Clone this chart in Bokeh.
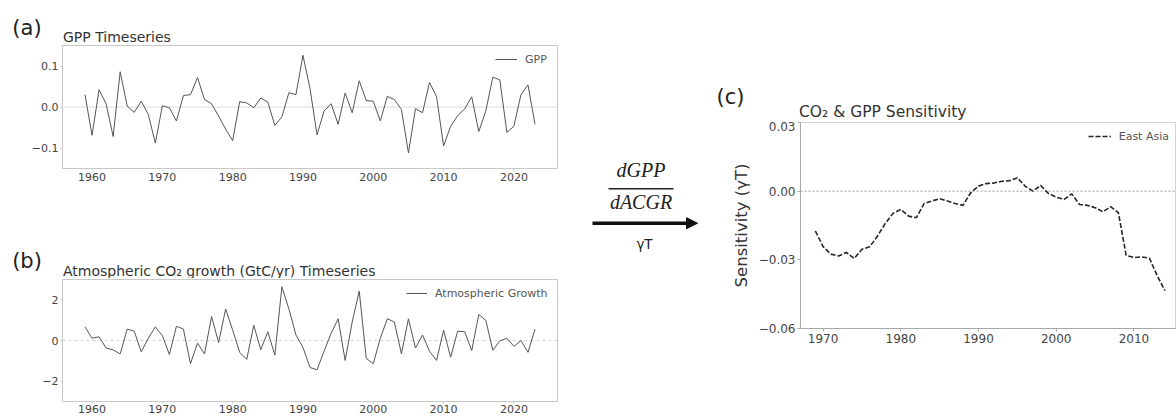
from math import pi
from bokeh.plotting import figure
from bokeh.layouts import row, column
from bokeh.models import (Range1d, FixedTicker, Span, Label, Legend, LegendItem,
                          Arrow, NormalHead)
from bokeh.embed import file_html
from bokeh.resources import INLINE

# ---------------- data ----------------
years = list(range(1959, 2024))
gpp = [0.030, -0.069, 0.042, 0.008, -0.072, 0.086, 0.002, -0.013, 0.014, -0.018,
       -0.088, 0.003, -0.002, -0.034, 0.028, 0.030, 0.072, 0.018, 0.008, -0.022,
       -0.054, -0.082, 0.013, 0.010, -0.002, 0.022, 0.012, -0.045, -0.024, 0.035,
       0.030, 0.126, 0.045, -0.068, -0.010, 0.008, -0.042, 0.034, -0.014, 0.064,
       0.016, 0.014, -0.034, 0.026, 0.018, -0.006, -0.112, -0.004, -0.014, 0.060,
       0.025, -0.095, -0.047, -0.021, -0.005, 0.025, -0.060, -0.010, 0.073, 0.066,
       -0.062, -0.047, 0.030, 0.054, -0.042]
atm_growth = [0.67, 0.11, 0.18, -0.37, -0.46, -0.66, 0.56, 0.46, -0.56, 0.11,
              0.67, 0.24, -0.69, 0.70, 0.56, -1.14, -0.13, -0.66, 1.18, -0.10,
              1.55, 0.51, -0.58, -0.93, 0.75, -0.45, 0.43, -0.72, 2.64, 1.55,
              0.27, -0.34, -1.33, -1.44, -0.53, 0.35, 1.07, -0.98, 0.91, 2.43,
              -0.88, -1.14, 0.11, 1.07, 0.91, -0.66, 1.07, -0.37, 0.27, -0.53,
              -0.98, 0.51, -0.82, 0.46, 0.43, -0.50, 1.28, 0.99, -0.48, -0.02,
              0.11, -0.29, 0.00, -0.58, 0.56]
sens_years = list(range(1969, 2015))
sensitivity = [-0.0174, -0.0242, -0.0275, -0.0283, -0.0268, -0.0294, -0.0254, -0.0243,
               -0.0196, -0.0141, -0.0097, -0.0080, -0.0109, -0.0116, -0.0054, -0.0043,
               -0.0033, -0.0043, -0.0054, -0.0062, -0.0007, 0.0022, 0.0033, 0.0036,
               0.0043, 0.0046, 0.0058, 0.0022, 0.0000, 0.0025, -0.0010, -0.0026,
               -0.0036, -0.0012, -0.0058, -0.0062, -0.0072, -0.0090, -0.0068, -0.0094,
               -0.0280, -0.0290, -0.0287, -0.0293, -0.0370, -0.0435]

year_ticks = [1960, 1970, 1980, 1990, 2000, 2010, 2020]
gpp_ticks = [-0.1, 0.0, 0.1]
gpp_tick_labels = ["\u22120.1", "0.0", "0.1"]
atm_ticks = [-2, 0, 2]
atm_tick_labels = ["\u22122", "0", "2"]
sens_year_ticks = [1970, 1980, 1990, 2000, 2010]
sens_ticks = [-0.06, -0.03, 0.0, 0.03]
sens_tick_labels = ["\u22120.06", "\u22120.03", "0.00", "0.03"]

# ---------------- helpers ----------------
FONT = "DejaVu Sans"
TICK_C = "#444444"


def blank(ox, oy, w, h):
    """Axis-less figure whose data coordinates equal page pixels."""
    p = figure(width=w, height=h, x_range=Range1d(ox, ox + w), y_range=Range1d(oy + h, oy),
               output_backend="svg", toolbar_location=None,
               x_axis_location=None, y_axis_location=None,
               min_border=0, outline_line_color=None,
               background_fill_color="white", border_fill_color="white")
    p.min_border_left = 0
    p.min_border_right = 0
    p.min_border_top = 0
    p.min_border_bottom = 0
    p.grid.visible = False
    return p


def style_axes(p, tick_size, axis_color, tick_out, standoff):
    p.xgrid.visible = False
    p.ygrid.visible = False
    for ax in p.axis:
        ax.major_label_text_font = FONT
        ax.major_label_text_font_size = tick_size
        ax.major_label_text_color = TICK_C
        ax.minor_tick_line_color = None
        ax.major_tick_in = 0
        ax.major_tick_out = tick_out
        ax.major_tick_line_color = axis_color
        ax.axis_line_color = axis_color
        ax.major_label_standoff = standoff


def add_label(p, x, y, text, size, align="left", font=FONT,
              style="normal", color="#222222", angle=0.0):
    p.add_layout(Label(x=x, y=y, text=text, text_font=font, text_font_size=size,
                       text_font_style=style, text_color=color, text_align=align,
                       text_baseline="middle", angle=angle))


def add_legend(p, renderer, text, vx, vy, glyph_w):
    leg = Legend(items=[LegendItem(label=text, renderers=[renderer])],
                 location=(vx, vy), padding=0, margin=0, spacing=0,
                 glyph_width=glyph_w, glyph_height=20, label_height=20,
                 label_standoff=8, label_text_font=FONT, label_text_font_size="11px",
                 label_text_color="#555555", border_line_color=None,
                 background_fill_alpha=0)
    p.add_layout(leg)


TS_X = (1955.8, 2026.2)
FRAME_C = "#c8c8c8"

# ---------------- panel (a) ----------------
head_a = blank(0, 0, 560, 44)
add_label(head_a, 26.5, 27.5, "(a)", "21px", align="center")
add_label(head_a, 62.5, 36.2, "GPP Timeseries", "14px", color="#333333")

fa = figure(width=560, height=146, x_range=Range1d(*TS_X), y_range=Range1d(-0.15, 0.15),
            output_backend="svg", toolbar_location=None,
            min_border_left=62, min_border_right=3, min_border_top=1, min_border_bottom=22,
            outline_line_color=FRAME_C, background_fill_color="white",
            border_fill_color="white")
style_axes(fa, "11px", FRAME_C, 2, 2)
fa.xaxis.ticker = FixedTicker(ticks=year_ticks)
fa.yaxis.ticker = FixedTicker(ticks=gpp_ticks)
fa.yaxis.major_label_overrides = dict(zip(gpp_ticks, gpp_tick_labels))
fa.add_layout(Span(location=0, dimension="width", line_color="#dcdcdc", line_width=1,
                   level="underlay"))
ra = fa.line(years, gpp, line_color="#555555", line_width=1)
add_legend(fa, ra, "GPP", 433, 98.7, 22)

# ---------------- panel (b) ----------------
head_b = blank(0, 190, 560, 88)
add_label(head_b, 26.5, 260, "(b)", "21px", align="center")
add_label(head_b, 62.5, 270.4, "Atmospheric CO\u2082 growth (GtC/yr) Timeseries", "14px",
          color="#333333")

fb = figure(width=560, height=140, x_range=Range1d(*TS_X), y_range=Range1d(-3, 3),
            output_backend="svg", toolbar_location=None,
            min_border_left=62, min_border_right=3, min_border_top=1, min_border_bottom=17,
            outline_line_color=FRAME_C, background_fill_color="white",
            border_fill_color="white")
style_axes(fb, "11px", FRAME_C, 2, 1)
fb.xaxis.ticker = FixedTicker(ticks=year_ticks)
fb.yaxis.ticker = FixedTicker(ticks=atm_ticks)
fb.yaxis.major_label_overrides = dict(zip(atm_ticks, atm_tick_labels))
fb.yaxis.major_label_standoff = 2
fb.add_layout(Span(location=0, dimension="width", line_color="#d0d0d0", line_width=1,
                   line_dash="3 3", level="underlay"))
rb = fb.line(years, atm_growth, line_color="#555555", line_width=1)
add_legend(fb, rb, "Atmospheric Growth", 344, 97.7, 21)

# ---------------- middle: (c), formula, arrow, y-label ----------------
mid = blank(560, 0, 195, 418)
add_label(mid, 730, 96, "(c)", "21px", align="center")
add_label(mid, 741, 225, "Sensitivity (\u03b3T)", "16.5px", align="center",
          angle=pi / 2, color="#333333")
add_label(mid, 640.5, 169.5, "dGPP", "20px", align="center", font="Liberation Serif",
          style="italic", color="#222222")
add_label(mid, 640.5, 201.5, "dACGR", "20px", align="center", font="Liberation Serif",
          style="italic", color="#222222")
mid.add_layout(Arrow(start=None, end=None, x_start=608, y_start=188.3, x_end=673,
                     y_end=188.3, line_color="#222222", line_width=1.5))
mid.add_layout(Arrow(start=None, end=NormalHead(size=11, fill_color="#111111",
                                                line_color="#111111"),
                     x_start=592, y_start=222.7, x_end=697, y_end=222.7,
                     line_color="#111111", line_width=3.5))
add_label(mid, 644, 243, "\u03b3T", "13.5px", align="center", color="#222222")

# ---------------- panel (c) ----------------
head_c = blank(755, 0, 421, 121)
add_label(head_c, 798.5, 111.6, "CO\u2082 & GPP Sensitivity", "15.5px", color="#333333")

C_X = (1967.09, 2015.48)
C_Y = (-0.06, 0.03)
fc = figure(width=421, height=297, x_range=Range1d(*C_X), y_range=Range1d(*C_Y),
            output_backend="svg", toolbar_location=None,
            min_border_left=44, min_border_right=0, min_border_top=1, min_border_bottom=90,
            outline_line_color="#d4d4d4", background_fill_color="white",
            border_fill_color="white")
style_axes(fc, "12px", "#a8a8a8", 3, 2)
fc.xaxis.ticker = FixedTicker(ticks=sens_year_ticks)
fc.yaxis.ticker = FixedTicker(ticks=sens_ticks)
fc.yaxis.major_label_overrides = dict(zip(sens_ticks, sens_tick_labels))
fc.add_layout(Span(location=0, dimension="width", line_color="#9a9a9a", line_width=1,
                   line_dash="2 2", level="underlay"))
rc = fc.line(sens_years, sensitivity, line_color="#262626", line_width=1.6, line_dash="5 2")
add_legend(fc, rc, "East Asia", 287.7, 182, 23)

# heads are wrapped in their own rows so that the column does not align
# their (empty) borders with the plots' axis borders
layout = row(column(row(head_a), fa, row(head_b), fb), mid, column(row(head_c), fc))
open("out.html", "w").write(file_html(layout, INLINE))
